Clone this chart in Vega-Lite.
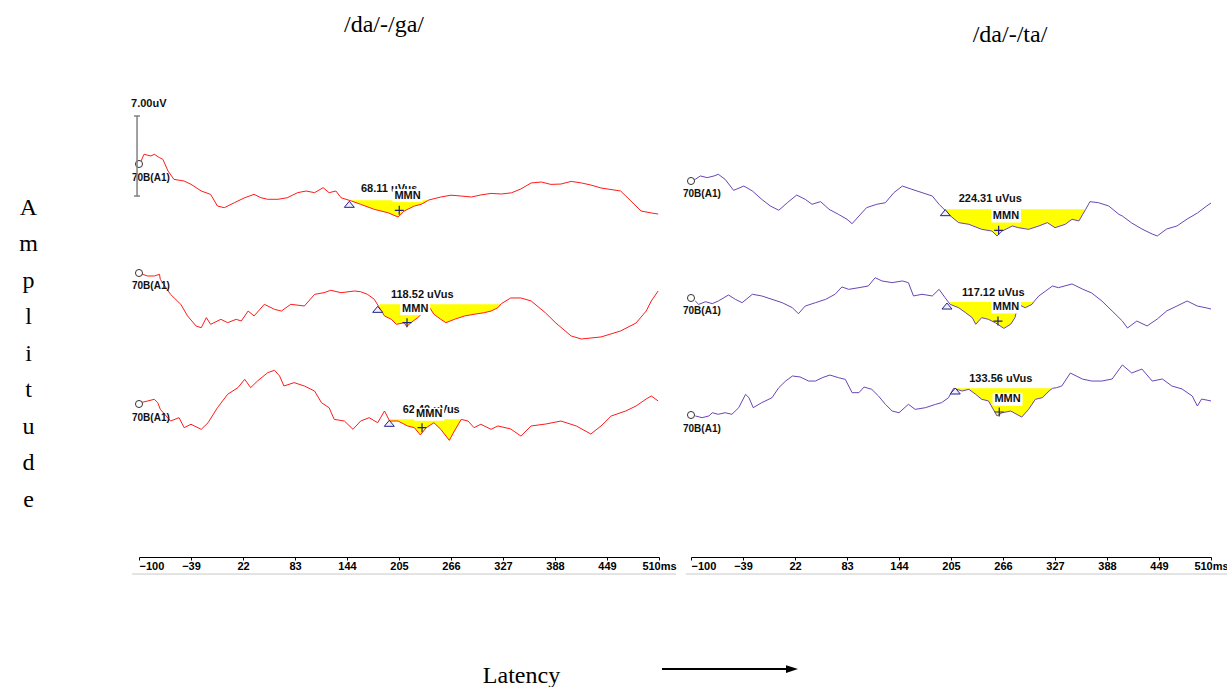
{
"$schema":"https://vega.github.io/schema/vega-lite/v6.json",
"padding":{"left":18,"top":13,"right":0,"bottom":0},
"background":"white",
"bounds":"flush",
"spacing":32,
"config":{"view":{"stroke":null},"axis":{"grid":false},"font":"Liberation Sans"},
"datasets":{
"wave":[
{"id":"L1","t":-98,"a":0.17},{"id":"L1","t":-95,"a":0.67},{"id":"L1","t":-94,"a":0.81},{"id":"L1","t":-86,"a":0.67},{"id":"L1","t":-82,"a":0.81},{"id":"L1","t":-76,"a":0.53},{"id":"L1","t":-72,"a":0.39},{"id":"L1","t":-66,"a":-0.58},{"id":"L1","t":-59,"a":-1.28},{"id":"L1","t":-47,"a":-1.42},{"id":"L1","t":-39,"a":-1.69},{"id":"L1","t":-27,"a":-2.25},{"id":"L1","t":-16,"a":-2.53},{"id":"L1","t":-8,"a":-3.5},{"id":"L1","t":0,"a":-3.64},{"id":"L1","t":12,"a":-3.22},{"id":"L1","t":24,"a":-2.81},{"id":"L1","t":35,"a":-2.53},{"id":"L1","t":43,"a":-2.81},{"id":"L1","t":51,"a":-2.94},{"id":"L1","t":63,"a":-2.94},{"id":"L1","t":74,"a":-2.81},{"id":"L1","t":86,"a":-2.39},{"id":"L1","t":96,"a":-2.25},{"id":"L1","t":106,"a":-2.39},{"id":"L1","t":116,"a":-1.97},{"id":"L1","t":123,"a":-2.39},{"id":"L1","t":131,"a":-2.25},{"id":"L1","t":137,"a":-2.81},{"id":"L1","t":149,"a":-3.08},{"id":"L1","t":160,"a":-3.36},{"id":"L1","t":176,"a":-3.78},{"id":"L1","t":192,"a":-4.06},{"id":"L1","t":204,"a":-4.42},{"id":"L1","t":211,"a":-3.92},{"id":"L1","t":223,"a":-3.5},{"id":"L1","t":231,"a":-3.36},{"id":"L1","t":240,"a":-3.0},{"id":"L1","t":254,"a":-2.75},{"id":"L1","t":266,"a":-2.6},{"id":"L1","t":278,"a":-2.67},{"id":"L1","t":290,"a":-2.75},{"id":"L1","t":301,"a":-2.58},{"id":"L1","t":313,"a":-2.45},{"id":"L1","t":325,"a":-2.5},{"id":"L1","t":337,"a":-2.4},{"id":"L1","t":348,"a":-2.08},{"id":"L1","t":360,"a":-1.58},{"id":"L1","t":372,"a":-1.5},{"id":"L1","t":383,"a":-1.7},{"id":"L1","t":395,"a":-1.67},{"id":"L1","t":407,"a":-1.45},{"id":"L1","t":419,"a":-1.58},{"id":"L1","t":430,"a":-1.75},{"id":"L1","t":442,"a":-2.0},{"id":"L1","t":465,"a":-2.25},{"id":"L1","t":477,"a":-3.08},{"id":"L1","t":489,"a":-3.92},{"id":"L1","t":501,"a":-4.08},{"id":"L1","t":509,"a":-4.17},
{"id":"L2","t":-98,"a":-0.06},{"id":"L2","t":-90,"a":-0.25},{"id":"L2","t":-82,"a":-0.25},{"id":"L2","t":-76,"a":-0.11},{"id":"L2","t":-75,"a":-0.53},{"id":"L2","t":-63,"a":-1.78},{"id":"L2","t":-51,"a":-2.61},{"id":"L2","t":-43,"a":-3.58},{"id":"L2","t":-33,"a":-4.42},{"id":"L2","t":-27,"a":-4.56},{"id":"L2","t":-21,"a":-3.72},{"id":"L2","t":-16,"a":-4.28},{"id":"L2","t":-4,"a":-3.86},{"id":"L2","t":4,"a":-4.14},{"id":"L2","t":14,"a":-3.86},{"id":"L2","t":20,"a":-4.0},{"id":"L2","t":28,"a":-3.17},{"id":"L2","t":35,"a":-3.58},{"id":"L2","t":47,"a":-2.61},{"id":"L2","t":59,"a":-3.03},{"id":"L2","t":67,"a":-3.17},{"id":"L2","t":78,"a":-2.61},{"id":"L2","t":94,"a":-2.75},{"id":"L2","t":106,"a":-1.78},{"id":"L2","t":117,"a":-1.64},{"id":"L2","t":125,"a":-1.44},{"id":"L2","t":137,"a":-1.64},{"id":"L2","t":153,"a":-1.5},{"id":"L2","t":160,"a":-1.56},{"id":"L2","t":168,"a":-1.78},{"id":"L2","t":176,"a":-2.19},{"id":"L2","t":182,"a":-2.89},{"id":"L2","t":188,"a":-3.58},{"id":"L2","t":196,"a":-3.86},{"id":"L2","t":202,"a":-4.28},{"id":"L2","t":211,"a":-4.14},{"id":"L2","t":214,"a":-4.47},{"id":"L2","t":219,"a":-4.14},{"id":"L2","t":227,"a":-3.72},{"id":"L2","t":235,"a":-3.17},{"id":"L2","t":241,"a":-2.89},{"id":"L2","t":246,"a":-3.44},{"id":"L2","t":254,"a":-3.86},{"id":"L2","t":260,"a":-4.14},{"id":"L2","t":270,"a":-3.86},{"id":"L2","t":282,"a":-3.58},{"id":"L2","t":293,"a":-3.44},{"id":"L2","t":305,"a":-3.31},{"id":"L2","t":313,"a":-3.17},{"id":"L2","t":321,"a":-2.89},{"id":"L2","t":325,"a":-2.56},{"id":"L2","t":336,"a":-2.08},{"id":"L2","t":348,"a":-2.08},{"id":"L2","t":360,"a":-2.33},{"id":"L2","t":377,"a":-3.33},{"id":"L2","t":389,"a":-4.17},{"id":"L2","t":407,"a":-5.25},{"id":"L2","t":419,"a":-5.5},{"id":"L2","t":442,"a":-5.33},{"id":"L2","t":465,"a":-4.83},{"id":"L2","t":483,"a":-4.17},{"id":"L2","t":495,"a":-3.17},{"id":"L2","t":501,"a":-2.33},{"id":"L2","t":509,"a":-1.5},
{"id":"L3","t":-98,"a":0.11},{"id":"L3","t":-90,"a":0.25},{"id":"L3","t":-82,"a":0.39},{"id":"L3","t":-78,"a":0.11},{"id":"L3","t":-75,"a":-0.44},{"id":"L3","t":-63,"a":-1.42},{"id":"L3","t":-53,"a":-1.14},{"id":"L3","t":-47,"a":-1.97},{"id":"L3","t":-39,"a":-1.69},{"id":"L3","t":-27,"a":-2.11},{"id":"L3","t":-19,"a":-1.56},{"id":"L3","t":-8,"a":-0.31},{"id":"L3","t":4,"a":0.81},{"id":"L3","t":16,"a":1.36},{"id":"L3","t":24,"a":2.06},{"id":"L3","t":31,"a":1.36},{"id":"L3","t":39,"a":1.92},{"id":"L3","t":51,"a":2.61},{"id":"L3","t":59,"a":2.81},{"id":"L3","t":65,"a":2.33},{"id":"L3","t":70,"a":1.5},{"id":"L3","t":82,"a":1.78},{"id":"L3","t":94,"a":1.5},{"id":"L3","t":106,"a":1.08},{"id":"L3","t":114,"a":0.11},{"id":"L3","t":123,"a":-0.31},{"id":"L3","t":129,"a":-1.28},{"id":"L3","t":141,"a":-1.42},{"id":"L3","t":151,"a":-2.11},{"id":"L3","t":160,"a":-1.42},{"id":"L3","t":170,"a":-1.14},{"id":"L3","t":180,"a":-1.56},{"id":"L3","t":188,"a":-0.58},{"id":"L3","t":194,"a":-1.42},{"id":"L3","t":204,"a":-1.42},{"id":"L3","t":215,"a":-1.83},{"id":"L3","t":223,"a":-1.97},{"id":"L3","t":230,"a":-2.58},{"id":"L3","t":237,"a":-1.97},{"id":"L3","t":246,"a":-1.56},{"id":"L3","t":254,"a":-2.11},{"id":"L3","t":264,"a":-3.03},{"id":"L3","t":270,"a":-2.25},{"id":"L3","t":278,"a":-1.28},{"id":"L3","t":286,"a":-1.42},{"id":"L3","t":293,"a":-1.97},{"id":"L3","t":301,"a":-1.69},{"id":"L3","t":313,"a":-2.11},{"id":"L3","t":321,"a":-1.83},{"id":"L3","t":336,"a":-2.08},{"id":"L3","t":348,"a":-2.67},{"id":"L3","t":360,"a":-1.83},{"id":"L3","t":377,"a":-1.67},{"id":"L3","t":395,"a":-1.42},{"id":"L3","t":413,"a":-1.83},{"id":"L3","t":430,"a":-2.5},{"id":"L3","t":442,"a":-1.83},{"id":"L3","t":454,"a":-1.0},{"id":"L3","t":471,"a":-0.58},{"id":"L3","t":483,"a":-0.17},{"id":"L3","t":495,"a":0.42},{"id":"L3","t":501,"a":0.67},{"id":"L3","t":509,"a":0.25},
{"id":"R1","t":-99,"a":0.08},{"id":"R1","t":-95,"a":0.14},{"id":"R1","t":-89,"a":0.42},{"id":"R1","t":-81,"a":0.28},{"id":"R1","t":-73,"a":0.42},{"id":"R1","t":-68,"a":0.56},{"id":"R1","t":-60,"a":0.14},{"id":"R1","t":-50,"a":-0.78},{"id":"R1","t":-38,"a":-0.42},{"id":"R1","t":-28,"a":-0.83},{"id":"R1","t":-17,"a":-1.53},{"id":"R1","t":-7,"a":-2.08},{"id":"R1","t":3,"a":-2.44},{"id":"R1","t":13,"a":-1.81},{"id":"R1","t":24,"a":-1.17},{"id":"R1","t":34,"a":-1.53},{"id":"R1","t":42,"a":-1.94},{"id":"R1","t":52,"a":-1.72},{"id":"R1","t":62,"a":-2.36},{"id":"R1","t":73,"a":-2.78},{"id":"R1","t":83,"a":-3.19},{"id":"R1","t":89,"a":-3.56},{"id":"R1","t":97,"a":-2.92},{"id":"R1","t":106,"a":-2.22},{"id":"R1","t":118,"a":-1.94},{"id":"R1","t":128,"a":-1.81},{"id":"R1","t":138,"a":-0.97},{"id":"R1","t":148,"a":-0.42},{"id":"R1","t":159,"a":-0.69},{"id":"R1","t":171,"a":-0.97},{"id":"R1","t":183,"a":-1.25},{"id":"R1","t":191,"a":-1.94},{"id":"R1","t":198,"a":-2.44},{"id":"R1","t":202,"a":-2.78},{"id":"R1","t":214,"a":-3.47},{"id":"R1","t":226,"a":-3.61},{"id":"R1","t":241,"a":-4.03},{"id":"R1","t":253,"a":-4.17},{"id":"R1","t":259,"a":-4.58},{"id":"R1","t":265,"a":-4.17},{"id":"R1","t":277,"a":-3.75},{"id":"R1","t":284,"a":-3.89},{"id":"R1","t":296,"a":-4.03},{"id":"R1","t":308,"a":-3.75},{"id":"R1","t":318,"a":-3.47},{"id":"R1","t":327,"a":-3.89},{"id":"R1","t":339,"a":-3.61},{"id":"R1","t":347,"a":-3.19},{"id":"R1","t":355,"a":-3.33},{"id":"R1","t":363,"a":-2.36},{"id":"R1","t":368,"a":-1.72},{"id":"R1","t":378,"a":-1.81},{"id":"R1","t":390,"a":-2.08},{"id":"R1","t":402,"a":-2.78},{"id":"R1","t":406,"a":-2.92},{"id":"R1","t":417,"a":-3.5},{"id":"R1","t":429,"a":-4.0},{"id":"R1","t":441,"a":-4.42},{"id":"R1","t":447,"a":-4.58},{"id":"R1","t":458,"a":-4.0},{"id":"R1","t":470,"a":-3.75},{"id":"R1","t":482,"a":-3.17},{"id":"R1","t":494,"a":-2.67},{"id":"R1","t":505,"a":-2.08},{"id":"R1","t":510,"a":-1.83},
{"id":"R2","t":-95,"a":-0.25},{"id":"R2","t":-91,"a":-0.53},{"id":"R2","t":-83,"a":-0.31},{"id":"R2","t":-75,"a":-0.47},{"id":"R2","t":-68,"a":-0.25},{"id":"R2","t":-56,"a":0.25},{"id":"R2","t":-48,"a":-0.11},{"id":"R2","t":-40,"a":-0.39},{"id":"R2","t":-28,"a":0.31},{"id":"R2","t":-17,"a":0.17},{"id":"R2","t":-5,"a":-0.11},{"id":"R2","t":7,"a":-0.39},{"id":"R2","t":19,"a":-0.81},{"id":"R2","t":26,"a":-1.31},{"id":"R2","t":34,"a":-0.67},{"id":"R2","t":46,"a":-0.39},{"id":"R2","t":58,"a":-0.11},{"id":"R2","t":69,"a":0.31},{"id":"R2","t":77,"a":0.92},{"id":"R2","t":85,"a":0.72},{"id":"R2","t":97,"a":0.86},{"id":"R2","t":108,"a":1.0},{"id":"R2","t":116,"a":1.69},{"id":"R2","t":124,"a":1.42},{"id":"R2","t":136,"a":1.28},{"id":"R2","t":148,"a":1.42},{"id":"R2","t":155,"a":1.28},{"id":"R2","t":161,"a":0.17},{"id":"R2","t":171,"a":0.31},{"id":"R2","t":183,"a":0.17},{"id":"R2","t":191,"a":0.72},{"id":"R2","t":198,"a":0.03},{"id":"R2","t":204,"a":-0.53},{"id":"R2","t":214,"a":-0.81},{"id":"R2","t":222,"a":-1.22},{"id":"R2","t":230,"a":-1.64},{"id":"R2","t":234,"a":-2.19},{"id":"R2","t":241,"a":-1.64},{"id":"R2","t":249,"a":-1.78},{"id":"R2","t":257,"a":-2.06},{"id":"R2","t":267,"a":-2.53},{"id":"R2","t":275,"a":-2.19},{"id":"R2","t":280,"a":-1.64},{"id":"R2","t":284,"a":-0.53},{"id":"R2","t":292,"a":-0.81},{"id":"R2","t":300,"a":-0.53},{"id":"R2","t":302,"a":-0.33},{"id":"R2","t":308,"a":0.17},{"id":"R2","t":316,"a":0.58},{"id":"R2","t":324,"a":1.0},{"id":"R2","t":331,"a":0.86},{"id":"R2","t":347,"a":1.17},{"id":"R2","t":359,"a":0.75},{"id":"R2","t":370,"a":0.42},{"id":"R2","t":382,"a":-0.25},{"id":"R2","t":394,"a":-1.08},{"id":"R2","t":406,"a":-1.92},{"id":"R2","t":412,"a":-2.5},{"id":"R2","t":423,"a":-1.92},{"id":"R2","t":435,"a":-2.33},{"id":"R2","t":447,"a":-1.75},{"id":"R2","t":458,"a":-1.08},{"id":"R2","t":470,"a":-0.67},{"id":"R2","t":482,"a":-0.25},{"id":"R2","t":494,"a":-0.67},{"id":"R2","t":505,"a":-0.83},{"id":"R2","t":510,"a":-0.92},
{"id":"R3","t":-95,"a":-0.08},{"id":"R3","t":-87,"a":-0.22},{"id":"R3","t":-79,"a":-0.08},{"id":"R3","t":-75,"a":0.19},{"id":"R3","t":-68,"a":0.06},{"id":"R3","t":-60,"a":0.19},{"id":"R3","t":-52,"a":0.06},{"id":"R3","t":-44,"a":0.61},{"id":"R3","t":-36,"a":1.72},{"id":"R3","t":-32,"a":1.44},{"id":"R3","t":-27,"a":0.61},{"id":"R3","t":-17,"a":1.03},{"id":"R3","t":-5,"a":1.44},{"id":"R3","t":3,"a":2.28},{"id":"R3","t":11,"a":2.83},{"id":"R3","t":19,"a":3.25},{"id":"R3","t":28,"a":3.17},{"id":"R3","t":38,"a":2.83},{"id":"R3","t":46,"a":2.83},{"id":"R3","t":54,"a":3.11},{"id":"R3","t":63,"a":3.33},{"id":"R3","t":73,"a":3.11},{"id":"R3","t":81,"a":2.97},{"id":"R3","t":89,"a":1.86},{"id":"R3","t":97,"a":1.86},{"id":"R3","t":103,"a":2.33},{"id":"R3","t":112,"a":2.14},{"id":"R3","t":120,"a":1.58},{"id":"R3","t":128,"a":0.89},{"id":"R3","t":136,"a":0.33},{"id":"R3","t":144,"a":0.19},{"id":"R3","t":155,"a":0.89},{"id":"R3","t":163,"a":0.47},{"id":"R3","t":175,"a":0.61},{"id":"R3","t":187,"a":0.89},{"id":"R3","t":194,"a":1.03},{"id":"R3","t":202,"a":1.44},{"id":"R3","t":208,"a":2.22},{"id":"R3","t":218,"a":2.0},{"id":"R3","t":226,"a":2.14},{"id":"R3","t":234,"a":1.72},{"id":"R3","t":241,"a":1.31},{"id":"R3","t":249,"a":1.17},{"id":"R3","t":259,"a":-0.08},{"id":"R3","t":265,"a":0.19},{"id":"R3","t":275,"a":0.33},{"id":"R3","t":288,"a":-0.17},{"id":"R3","t":296,"a":0.47},{"id":"R3","t":304,"a":1.31},{"id":"R3","t":312,"a":1.44},{"id":"R3","t":320,"a":2.0},{"id":"R3","t":324,"a":2.22},{"id":"R3","t":329,"a":2.28},{"id":"R3","t":335,"a":2.42},{"id":"R3","t":345,"a":3.5},{"id":"R3","t":359,"a":3.0},{"id":"R3","t":370,"a":2.83},{"id":"R3","t":382,"a":2.83},{"id":"R3","t":394,"a":3.0},{"id":"R3","t":406,"a":4.17},{"id":"R3","t":417,"a":3.5},{"id":"R3","t":429,"a":3.83},{"id":"R3","t":441,"a":2.83},{"id":"R3","t":453,"a":3.0},{"id":"R3","t":464,"a":2.42},{"id":"R3","t":476,"a":2.17},{"id":"R3","t":488,"a":1.58},{"id":"R3","t":494,"a":0.75},{"id":"R3","t":499,"a":1.33},{"id":"R3","t":510,"a":1.17}
],
"mmn":[
{"id":"L1","on":146,"off":241,"ref":-3.03,"tt":146.7,"ta":-3.36,"pt":205.3,"pa":-3.86,"lt":160.4,"la":-2.08,"lab":"68.11 uVus","mt":215,"ma":-2.63},
{"id":"L2","on":181,"off":325,"ref":-2.61,"tt":180,"ta":-3.03,"pt":214.4,"pa":-4.14,"lt":195.6,"la":-1.86,"lab":"118.52 uVus","mt":224,"ma":-2.97},
{"id":"L3","on":193,"off":278,"ref":-1.28,"tt":193.6,"ta":-1.61,"pt":232,"pa":-1.97,"lt":209.3,"la":-0.53,"lab":"62.40 uVus","mt":240.5,"ma":-0.86},
{"id":"R1","on":197,"off":363,"ref":-2.36,"tt":198.3,"ta":-2.64,"pt":260.9,"pa":-4.11,"lt":214,"la":-1.53,"lab":"224.31 uVus","mt":269.5,"ma":-2.92},
{"id":"R2","on":201,"off":302,"ref":-0.33,"tt":200.3,"ta":-0.67,"pt":260.1,"pa":-1.92,"lt":217.9,"la":0.44,"lab":"117.12 uVus","mt":269.5,"ma":-0.75},
{"id":"R3","on":208,"off":324,"ref":2.22,"tt":210,"ta":2.0,"pt":261.6,"pa":0.25,"lt":226.4,"la":2.97,"lab":"133.56 uVus","mt":271.3,"ma":1.31}
],
"bar":[{"t":-102.3,"top":4.0,"bot":-2.67,"lab":"7.00uV"}],
"under":[{"p":"L","t1":-108,"t2":530,"a":-34.17},{"p":"R","t1":-106,"t2":530,"a":-32.75}],
"arrow":[{"t1":-134,"t2":12.6,"th":18.5,"a":-40.67}]
},
"hconcat":[
{
"width":520,"height":461,
"title":{"text":"/da/-/ga/","font":"Liberation Serif","fontSize":24,"fontWeight":"normal","color":"black","frame":"group","anchor":"middle","baseline":"alphabetic","offset":40,"dx":-15},
"resolve":{"scale":{"y":"independent"}},
"layer":[
{"data":{"name":"wave"},"transform":[{"filter":"datum.id === 'L1'"},{"lookup":"id","from":{"data":{"name":"mmn"},"key":"id","fields":["on","off","ref"]}},{"filter":"datum.t >= datum.on && datum.t <= datum.off"}],
"mark":{"type":"area","color":"#ffff00","opacity":1},
"encoding":{
"x":{"field":"t","type":"quantitative","scale":{"domain":[-100,510],"nice":false,"zero":false},
"axis":{"values":[-100,-39,22,83,144,205,266,327,388,449,510],"labelExpr":"datum.value == 510 ? '510ms' : datum.label","labelFont":"Liberation Sans","labelFontSize":11,"labelFontWeight":"bold","labelColor":"black","labelPadding":0,"labelOverlap":false,"labelFlush":false,"labelAlign":{"condition":{"test":"datum.value == -100","value":"left"},"value":"center"},"tickSize":3,"tickColor":"black","domainColor":"black","grid":false,"title":"Latency","titleX":382,"titleY":125,"titleFont":"Liberation Serif","titleFontSize":24,"titleFontWeight":"normal","titleColor":"black","titleBaseline":"alphabetic","titleAlign":"center"}},
"y":{"field":"a","type":"quantitative","scale":{"domain":[-32.75,5.667],"nice":false,"zero":false},
"axis":{"title":["A","m","p","l","i","t","u","d","e"],"labels":false,"ticks":false,"domain":false,"grid":false,"titleAngle":0,"titleX":-111,"titleY":118,"titleAlign":"center","titleBaseline":"alphabetic","titleLineHeight":36.5,"titleFont":"Liberation Serif","titleFontSize":24,"titleFontWeight":"normal","titleColor":"black"}},
"y2":{"field":"ref"}}},
{"data":{"name":"wave"},"transform":[{"filter":"datum.id === 'L1'"}],"mark":{"type":"line","color":"#ff1a1a","strokeWidth":1},"encoding":{"x":{"field":"t","type":"quantitative"},"y":{"field":"a","type":"quantitative","scale":{"domain":[-32.75,5.667],"nice":false,"zero":false},"axis":null}}},
{"data":{"name":"mmn"},"transform":[{"filter":"datum.id === 'L1'"}],"mark":{"type":"text","align":"left","baseline":"middle","fontSize":11,"fontWeight":"bold","color":"#111"},"encoding":{"x":{"field":"lt","type":"quantitative"},"y":{"field":"la","type":"quantitative","scale":{"domain":[-32.75,5.667],"nice":false,"zero":false},"axis":null},"text":{"field":"lab"}}},
{"data":{"name":"mmn"},"transform":[{"filter":"datum.id === 'L1'"}],"mark":{"type":"point","shape":"M-1.5,-0.65H1.5V0.65H-1.5Z","filled":true,"color":"white","opacity":1,"size":400,"strokeWidth":0},"encoding":{"x":{"field":"mt","type":"quantitative"},"y":{"field":"ma","type":"quantitative","scale":{"domain":[-32.75,5.667],"nice":false,"zero":false},"axis":null}}},
{"data":{"name":"mmn"},"transform":[{"filter":"datum.id === 'L1'"}],"mark":{"type":"text","text":"MMN","align":"center","baseline":"middle","fontSize":11,"fontWeight":"bold","color":"#111"},"encoding":{"x":{"field":"mt","type":"quantitative"},"y":{"field":"ma","type":"quantitative","scale":{"domain":[-32.75,5.667],"nice":false,"zero":false},"axis":null}}},
{"data":{"name":"mmn"},"transform":[{"filter":"datum.id === 'L1'"}],"mark":{"type":"point","shape":"M-1,0.6L1,0.6L0,-0.6Z","fill":"#eef","stroke":"#20208a","strokeWidth":1,"size":100,"opacity":1},"encoding":{"x":{"field":"tt","type":"quantitative"},"y":{"field":"ta","type":"quantitative","scale":{"domain":[-32.75,5.667],"nice":false,"zero":false},"axis":null}}},
{"data":{"name":"mmn"},"transform":[{"filter":"datum.id === 'L1'"}],"mark":{"type":"point","shape":"M-1,0H1M0,-1V1","filled":false,"stroke":"#20208a","strokeWidth":1.2,"size":81,"opacity":1},"encoding":{"x":{"field":"pt","type":"quantitative"},"y":{"field":"pa","type":"quantitative","scale":{"domain":[-32.75,5.667],"nice":false,"zero":false},"axis":null}}},
{"data":{"name":"mmn"},"transform":[{"filter":"datum.id === 'L1'"}],"mark":{"type":"point","shape":"circle","size":50,"fill":"white","stroke":"#333","strokeWidth":1,"opacity":1},"encoding":{"x":{"datum":-100,"type":"quantitative"},"y":{"datum":0,"type":"quantitative","scale":{"domain":[-32.75,5.667],"nice":false,"zero":false},"axis":null}}},
{"data":{"name":"mmn"},"transform":[{"filter":"datum.id === 'L1'"}],"mark":{"type":"text","text":"70B(A1)","align":"left","baseline":"middle","dx":-7,"dy":13.5,"fontSize":10,"fontWeight":"bold","color":"#111"},"encoding":{"x":{"datum":-100,"type":"quantitative"},"y":{"datum":0,"type":"quantitative","scale":{"domain":[-32.75,5.667],"nice":false,"zero":false},"axis":null}}},
{"data":{"name":"bar"},"mark":{"type":"rule","color":"#808080","strokeWidth":1.5},"encoding":{"x":{"field":"t","type":"quantitative"},"y":{"field":"top","type":"quantitative","scale":{"domain":[-32.75,5.667],"nice":false,"zero":false},"axis":null},"y2":{"field":"bot"}}},
{"data":{"name":"bar"},"mark":{"type":"point","shape":"M-1,0H1","filled":false,"stroke":"#808080","strokeWidth":1.5,"size":36,"opacity":1},"encoding":{"x":{"field":"t","type":"quantitative"},"y":{"field":"top","type":"quantitative","scale":{"domain":[-32.75,5.667],"nice":false,"zero":false},"axis":null}}},
{"data":{"name":"bar"},"mark":{"type":"point","shape":"M-1,0H1","filled":false,"stroke":"#808080","strokeWidth":1.5,"size":36,"opacity":1},"encoding":{"x":{"field":"t","type":"quantitative"},"y":{"field":"bot","type":"quantitative","scale":{"domain":[-32.75,5.667],"nice":false,"zero":false},"axis":null}}},
{"data":{"name":"bar"},"mark":{"type":"text","align":"left","baseline":"middle","dx":-6,"dy":-12,"fontSize":11,"fontWeight":"bold","color":"#111"},"encoding":{"x":{"field":"t","type":"quantitative"},"y":{"field":"top","type":"quantitative","scale":{"domain":[-32.75,5.667],"nice":false,"zero":false},"axis":null},"text":{"field":"lab"}}},
{"data":{"name":"under"},"transform":[{"filter":"datum.p === 'L'"}],"mark":{"type":"rule","color":"#c8c8c8","strokeWidth":1},"encoding":{"x":{"field":"t1","type":"quantitative"},"x2":{"field":"t2"},"y":{"field":"a","type":"quantitative","scale":{"domain":[-32.75,5.667],"nice":false,"zero":false},"axis":null}}},
{"data":{"name":"wave"},"transform":[{"filter":"datum.id === 'L2'"},{"lookup":"id","from":{"data":{"name":"mmn"},"key":"id","fields":["on","off","ref"]}},{"filter":"datum.t >= datum.on && datum.t <= datum.off"}],"mark":{"type":"area","color":"#ffff00","opacity":1},"encoding":{"x":{"field":"t","type":"quantitative"},"y":{"field":"a","type":"quantitative","scale":{"domain":[-23.667,14.75],"nice":false,"zero":false},"axis":null},"y2":{"field":"ref"}}},
{"data":{"name":"wave"},"transform":[{"filter":"datum.id === 'L2'"}],"mark":{"type":"line","color":"#ff1a1a","strokeWidth":1},"encoding":{"x":{"field":"t","type":"quantitative"},"y":{"field":"a","type":"quantitative","scale":{"domain":[-23.667,14.75],"nice":false,"zero":false},"axis":null}}},
{"data":{"name":"mmn"},"transform":[{"filter":"datum.id === 'L2'"}],"mark":{"type":"text","align":"left","baseline":"middle","fontSize":11,"fontWeight":"bold","color":"#111"},"encoding":{"x":{"field":"lt","type":"quantitative"},"y":{"field":"la","type":"quantitative","scale":{"domain":[-23.667,14.75],"nice":false,"zero":false},"axis":null},"text":{"field":"lab"}}},
{"data":{"name":"mmn"},"transform":[{"filter":"datum.id === 'L2'"}],"mark":{"type":"point","shape":"M-1.5,-0.65H1.5V0.65H-1.5Z","filled":true,"color":"white","opacity":1,"size":400,"strokeWidth":0},"encoding":{"x":{"field":"mt","type":"quantitative"},"y":{"field":"ma","type":"quantitative","scale":{"domain":[-23.667,14.75],"nice":false,"zero":false},"axis":null}}},
{"data":{"name":"mmn"},"transform":[{"filter":"datum.id === 'L2'"}],"mark":{"type":"text","text":"MMN","align":"center","baseline":"middle","fontSize":11,"fontWeight":"bold","color":"#111"},"encoding":{"x":{"field":"mt","type":"quantitative"},"y":{"field":"ma","type":"quantitative","scale":{"domain":[-23.667,14.75],"nice":false,"zero":false},"axis":null}}},
{"data":{"name":"mmn"},"transform":[{"filter":"datum.id === 'L2'"}],"mark":{"type":"point","shape":"M-1,0.6L1,0.6L0,-0.6Z","fill":"#eef","stroke":"#20208a","strokeWidth":1,"size":100,"opacity":1},"encoding":{"x":{"field":"tt","type":"quantitative"},"y":{"field":"ta","type":"quantitative","scale":{"domain":[-23.667,14.75],"nice":false,"zero":false},"axis":null}}},
{"data":{"name":"mmn"},"transform":[{"filter":"datum.id === 'L2'"}],"mark":{"type":"point","shape":"M-1,0H1M0,-1V1","filled":false,"stroke":"#20208a","strokeWidth":1.2,"size":81,"opacity":1},"encoding":{"x":{"field":"pt","type":"quantitative"},"y":{"field":"pa","type":"quantitative","scale":{"domain":[-23.667,14.75],"nice":false,"zero":false},"axis":null}}},
{"data":{"name":"mmn"},"transform":[{"filter":"datum.id === 'L2'"}],"mark":{"type":"point","shape":"circle","size":50,"fill":"white","stroke":"#333","strokeWidth":1,"opacity":1},"encoding":{"x":{"datum":-100,"type":"quantitative"},"y":{"datum":0,"type":"quantitative","scale":{"domain":[-23.667,14.75],"nice":false,"zero":false},"axis":null}}},
{"data":{"name":"mmn"},"transform":[{"filter":"datum.id === 'L2'"}],"mark":{"type":"text","text":"70B(A1)","align":"left","baseline":"middle","dx":-7,"dy":13.5,"fontSize":10,"fontWeight":"bold","color":"#111"},"encoding":{"x":{"datum":-100,"type":"quantitative"},"y":{"datum":0,"type":"quantitative","scale":{"domain":[-23.667,14.75],"nice":false,"zero":false},"axis":null}}},
{"data":{"name":"wave"},"transform":[{"filter":"datum.id === 'L3'"},{"lookup":"id","from":{"data":{"name":"mmn"},"key":"id","fields":["on","off","ref"]}},{"filter":"datum.t >= datum.on && datum.t <= datum.off"}],"mark":{"type":"area","color":"#ffff00","opacity":1},"encoding":{"x":{"field":"t","type":"quantitative"},"y":{"field":"a","type":"quantitative","scale":{"domain":[-12.75,25.667],"nice":false,"zero":false},"axis":null},"y2":{"field":"ref"}}},
{"data":{"name":"wave"},"transform":[{"filter":"datum.id === 'L3'"}],"mark":{"type":"line","color":"#ff1a1a","strokeWidth":1},"encoding":{"x":{"field":"t","type":"quantitative"},"y":{"field":"a","type":"quantitative","scale":{"domain":[-12.75,25.667],"nice":false,"zero":false},"axis":null}}},
{"data":{"name":"mmn"},"transform":[{"filter":"datum.id === 'L3'"}],"mark":{"type":"text","align":"left","baseline":"middle","fontSize":11,"fontWeight":"bold","color":"#111"},"encoding":{"x":{"field":"lt","type":"quantitative"},"y":{"field":"la","type":"quantitative","scale":{"domain":[-12.75,25.667],"nice":false,"zero":false},"axis":null},"text":{"field":"lab"}}},
{"data":{"name":"mmn"},"transform":[{"filter":"datum.id === 'L3'"}],"mark":{"type":"point","shape":"M-1.5,-0.65H1.5V0.65H-1.5Z","filled":true,"color":"white","opacity":1,"size":400,"strokeWidth":0},"encoding":{"x":{"field":"mt","type":"quantitative"},"y":{"field":"ma","type":"quantitative","scale":{"domain":[-12.75,25.667],"nice":false,"zero":false},"axis":null}}},
{"data":{"name":"mmn"},"transform":[{"filter":"datum.id === 'L3'"}],"mark":{"type":"text","text":"MMN","align":"center","baseline":"middle","fontSize":11,"fontWeight":"bold","color":"#111"},"encoding":{"x":{"field":"mt","type":"quantitative"},"y":{"field":"ma","type":"quantitative","scale":{"domain":[-12.75,25.667],"nice":false,"zero":false},"axis":null}}},
{"data":{"name":"mmn"},"transform":[{"filter":"datum.id === 'L3'"}],"mark":{"type":"point","shape":"M-1,0.6L1,0.6L0,-0.6Z","fill":"#eef","stroke":"#20208a","strokeWidth":1,"size":100,"opacity":1},"encoding":{"x":{"field":"tt","type":"quantitative"},"y":{"field":"ta","type":"quantitative","scale":{"domain":[-12.75,25.667],"nice":false,"zero":false},"axis":null}}},
{"data":{"name":"mmn"},"transform":[{"filter":"datum.id === 'L3'"}],"mark":{"type":"point","shape":"M-1,0H1M0,-1V1","filled":false,"stroke":"#20208a","strokeWidth":1.2,"size":81,"opacity":1},"encoding":{"x":{"field":"pt","type":"quantitative"},"y":{"field":"pa","type":"quantitative","scale":{"domain":[-12.75,25.667],"nice":false,"zero":false},"axis":null}}},
{"data":{"name":"mmn"},"transform":[{"filter":"datum.id === 'L3'"}],"mark":{"type":"point","shape":"circle","size":50,"fill":"white","stroke":"#333","strokeWidth":1,"opacity":1},"encoding":{"x":{"datum":-100,"type":"quantitative"},"y":{"datum":0,"type":"quantitative","scale":{"domain":[-12.75,25.667],"nice":false,"zero":false},"axis":null}}},
{"data":{"name":"mmn"},"transform":[{"filter":"datum.id === 'L3'"}],"mark":{"type":"text","text":"70B(A1)","align":"left","baseline":"middle","dx":-7,"dy":13.5,"fontSize":10,"fontWeight":"bold","color":"#111"},"encoding":{"x":{"datum":-100,"type":"quantitative"},"y":{"datum":0,"type":"quantitative","scale":{"domain":[-12.75,25.667],"nice":false,"zero":false},"axis":null}}}
]
},
{
"width":520,"height":461,
"title":{"text":"/da/-/ta/","font":"Liberation Serif","fontSize":24,"fontWeight":"normal","color":"black","frame":"group","anchor":"middle","baseline":"alphabetic","offset":30,"dx":59},
"resolve":{"scale":{"y":"independent"}},
"layer":[
{"data":{"name":"wave"},"transform":[{"filter":"datum.id === 'R1'"},{"lookup":"id","from":{"data":{"name":"mmn"},"key":"id","fields":["on","off","ref"]}},{"filter":"datum.t >= datum.on && datum.t <= datum.off"}],
"mark":{"type":"area","color":"#ffff00","opacity":1},
"encoding":{
"x":{"field":"t","type":"quantitative","scale":{"domain":[-100,510],"nice":false,"zero":false},
"axis":{"values":[-100,-39,22,83,144,205,266,327,388,449,510],"labelExpr":"datum.value == 510 ? '510ms' : datum.label","labelFont":"Liberation Sans","labelFontSize":11,"labelFontWeight":"bold","labelColor":"black","labelPadding":0,"labelOverlap":false,"labelFlush":false,"labelAlign":{"condition":{"test":"datum.value == -100","value":"left"},"value":"center"},"tickSize":3,"tickColor":"black","domainColor":"black","grid":false,"title":null}},
"y":{"field":"a","type":"quantitative","scale":{"domain":[-31.333,7.083],"nice":false,"zero":false},"axis":null},
"y2":{"field":"ref"}}},
{"data":{"name":"wave"},"transform":[{"filter":"datum.id === 'R1'"}],"mark":{"type":"line","color":"#6a45b5","strokeWidth":1},"encoding":{"x":{"field":"t","type":"quantitative"},"y":{"field":"a","type":"quantitative","scale":{"domain":[-31.333,7.083],"nice":false,"zero":false},"axis":null}}},
{"data":{"name":"mmn"},"transform":[{"filter":"datum.id === 'R1'"}],"mark":{"type":"text","align":"left","baseline":"middle","fontSize":11,"fontWeight":"bold","color":"#111"},"encoding":{"x":{"field":"lt","type":"quantitative"},"y":{"field":"la","type":"quantitative","scale":{"domain":[-31.333,7.083],"nice":false,"zero":false},"axis":null},"text":{"field":"lab"}}},
{"data":{"name":"mmn"},"transform":[{"filter":"datum.id === 'R1'"}],"mark":{"type":"point","shape":"M-1.5,-0.65H1.5V0.65H-1.5Z","filled":true,"color":"white","opacity":1,"size":400,"strokeWidth":0},"encoding":{"x":{"field":"mt","type":"quantitative"},"y":{"field":"ma","type":"quantitative","scale":{"domain":[-31.333,7.083],"nice":false,"zero":false},"axis":null}}},
{"data":{"name":"mmn"},"transform":[{"filter":"datum.id === 'R1'"}],"mark":{"type":"text","text":"MMN","align":"center","baseline":"middle","fontSize":11,"fontWeight":"bold","color":"#111"},"encoding":{"x":{"field":"mt","type":"quantitative"},"y":{"field":"ma","type":"quantitative","scale":{"domain":[-31.333,7.083],"nice":false,"zero":false},"axis":null}}},
{"data":{"name":"mmn"},"transform":[{"filter":"datum.id === 'R1'"}],"mark":{"type":"point","shape":"M-1,0.6L1,0.6L0,-0.6Z","fill":"#eef","stroke":"#20208a","strokeWidth":1,"size":100,"opacity":1},"encoding":{"x":{"field":"tt","type":"quantitative"},"y":{"field":"ta","type":"quantitative","scale":{"domain":[-31.333,7.083],"nice":false,"zero":false},"axis":null}}},
{"data":{"name":"mmn"},"transform":[{"filter":"datum.id === 'R1'"}],"mark":{"type":"point","shape":"M-1,0H1M0,-1V1","filled":false,"stroke":"#20208a","strokeWidth":1.2,"size":81,"opacity":1},"encoding":{"x":{"field":"pt","type":"quantitative"},"y":{"field":"pa","type":"quantitative","scale":{"domain":[-31.333,7.083],"nice":false,"zero":false},"axis":null}}},
{"data":{"name":"mmn"},"transform":[{"filter":"datum.id === 'R1'"}],"mark":{"type":"point","shape":"circle","size":50,"fill":"white","stroke":"#333","strokeWidth":1,"opacity":1},"encoding":{"x":{"datum":-100,"type":"quantitative"},"y":{"datum":0,"type":"quantitative","scale":{"domain":[-31.333,7.083],"nice":false,"zero":false},"axis":null}}},
{"data":{"name":"mmn"},"transform":[{"filter":"datum.id === 'R1'"}],"mark":{"type":"text","text":"70B(A1)","align":"left","baseline":"middle","dx":-8,"dy":13.5,"fontSize":10,"fontWeight":"bold","color":"#111"},"encoding":{"x":{"datum":-100,"type":"quantitative"},"y":{"datum":0,"type":"quantitative","scale":{"domain":[-31.333,7.083],"nice":false,"zero":false},"axis":null}}},
{"data":{"name":"arrow"},"mark":{"type":"rule","color":"black","strokeWidth":2},"encoding":{"x":{"field":"t1","type":"quantitative"},"x2":{"field":"t2"},"y":{"field":"a","type":"quantitative","scale":{"domain":[-31.333,7.083],"nice":false,"zero":false},"axis":null}}},
{"data":{"name":"arrow"},"mark":{"type":"point","shape":"M-1,-0.65L1,0L-1,0.65Z","filled":true,"color":"black","size":144,"opacity":1},"encoding":{"x":{"field":"th","type":"quantitative"},"y":{"field":"a","type":"quantitative","scale":{"domain":[-31.333,7.083],"nice":false,"zero":false},"axis":null}}},
{"data":{"name":"under"},"transform":[{"filter":"datum.p === 'R'"}],"mark":{"type":"rule","color":"#c8c8c8","strokeWidth":1},"encoding":{"x":{"field":"t1","type":"quantitative"},"x2":{"field":"t2"},"y":{"field":"a","type":"quantitative","scale":{"domain":[-31.333,7.083],"nice":false,"zero":false},"axis":null}}},
{"data":{"name":"wave"},"transform":[{"filter":"datum.id === 'R2'"},{"lookup":"id","from":{"data":{"name":"mmn"},"key":"id","fields":["on","off","ref"]}},{"filter":"datum.t >= datum.on && datum.t <= datum.off"}],"mark":{"type":"area","color":"#ffff00","opacity":1},"encoding":{"x":{"field":"t","type":"quantitative"},"y":{"field":"a","type":"quantitative","scale":{"domain":[-21.583,16.833],"nice":false,"zero":false},"axis":null},"y2":{"field":"ref"}}},
{"data":{"name":"wave"},"transform":[{"filter":"datum.id === 'R2'"}],"mark":{"type":"line","color":"#6a45b5","strokeWidth":1},"encoding":{"x":{"field":"t","type":"quantitative"},"y":{"field":"a","type":"quantitative","scale":{"domain":[-21.583,16.833],"nice":false,"zero":false},"axis":null}}},
{"data":{"name":"mmn"},"transform":[{"filter":"datum.id === 'R2'"}],"mark":{"type":"text","align":"left","baseline":"middle","fontSize":11,"fontWeight":"bold","color":"#111"},"encoding":{"x":{"field":"lt","type":"quantitative"},"y":{"field":"la","type":"quantitative","scale":{"domain":[-21.583,16.833],"nice":false,"zero":false},"axis":null},"text":{"field":"lab"}}},
{"data":{"name":"mmn"},"transform":[{"filter":"datum.id === 'R2'"}],"mark":{"type":"point","shape":"M-1.5,-0.65H1.5V0.65H-1.5Z","filled":true,"color":"white","opacity":1,"size":400,"strokeWidth":0},"encoding":{"x":{"field":"mt","type":"quantitative"},"y":{"field":"ma","type":"quantitative","scale":{"domain":[-21.583,16.833],"nice":false,"zero":false},"axis":null}}},
{"data":{"name":"mmn"},"transform":[{"filter":"datum.id === 'R2'"}],"mark":{"type":"text","text":"MMN","align":"center","baseline":"middle","fontSize":11,"fontWeight":"bold","color":"#111"},"encoding":{"x":{"field":"mt","type":"quantitative"},"y":{"field":"ma","type":"quantitative","scale":{"domain":[-21.583,16.833],"nice":false,"zero":false},"axis":null}}},
{"data":{"name":"mmn"},"transform":[{"filter":"datum.id === 'R2'"}],"mark":{"type":"point","shape":"M-1,0.6L1,0.6L0,-0.6Z","fill":"#eef","stroke":"#20208a","strokeWidth":1,"size":100,"opacity":1},"encoding":{"x":{"field":"tt","type":"quantitative"},"y":{"field":"ta","type":"quantitative","scale":{"domain":[-21.583,16.833],"nice":false,"zero":false},"axis":null}}},
{"data":{"name":"mmn"},"transform":[{"filter":"datum.id === 'R2'"}],"mark":{"type":"point","shape":"M-1,0H1M0,-1V1","filled":false,"stroke":"#20208a","strokeWidth":1.2,"size":81,"opacity":1},"encoding":{"x":{"field":"pt","type":"quantitative"},"y":{"field":"pa","type":"quantitative","scale":{"domain":[-21.583,16.833],"nice":false,"zero":false},"axis":null}}},
{"data":{"name":"mmn"},"transform":[{"filter":"datum.id === 'R2'"}],"mark":{"type":"point","shape":"circle","size":50,"fill":"white","stroke":"#333","strokeWidth":1,"opacity":1},"encoding":{"x":{"datum":-100,"type":"quantitative"},"y":{"datum":0,"type":"quantitative","scale":{"domain":[-21.583,16.833],"nice":false,"zero":false},"axis":null}}},
{"data":{"name":"mmn"},"transform":[{"filter":"datum.id === 'R2'"}],"mark":{"type":"text","text":"70B(A1)","align":"left","baseline":"middle","dx":-8,"dy":13.5,"fontSize":10,"fontWeight":"bold","color":"#111"},"encoding":{"x":{"datum":-100,"type":"quantitative"},"y":{"datum":0,"type":"quantitative","scale":{"domain":[-21.583,16.833],"nice":false,"zero":false},"axis":null}}},
{"data":{"name":"wave"},"transform":[{"filter":"datum.id === 'R3'"},{"lookup":"id","from":{"data":{"name":"mmn"},"key":"id","fields":["on","off","ref"]}},{"filter":"datum.t >= datum.on && datum.t <= datum.off"}],"mark":{"type":"area","color":"#ffff00","opacity":1},"encoding":{"x":{"field":"t","type":"quantitative"},"y":{"field":"a","type":"quantitative","scale":{"domain":[-11.833,26.583],"nice":false,"zero":false},"axis":null},"y2":{"field":"ref"}}},
{"data":{"name":"wave"},"transform":[{"filter":"datum.id === 'R3'"}],"mark":{"type":"line","color":"#6a45b5","strokeWidth":1},"encoding":{"x":{"field":"t","type":"quantitative"},"y":{"field":"a","type":"quantitative","scale":{"domain":[-11.833,26.583],"nice":false,"zero":false},"axis":null}}},
{"data":{"name":"mmn"},"transform":[{"filter":"datum.id === 'R3'"}],"mark":{"type":"text","align":"left","baseline":"middle","fontSize":11,"fontWeight":"bold","color":"#111"},"encoding":{"x":{"field":"lt","type":"quantitative"},"y":{"field":"la","type":"quantitative","scale":{"domain":[-11.833,26.583],"nice":false,"zero":false},"axis":null},"text":{"field":"lab"}}},
{"data":{"name":"mmn"},"transform":[{"filter":"datum.id === 'R3'"}],"mark":{"type":"point","shape":"M-1.5,-0.65H1.5V0.65H-1.5Z","filled":true,"color":"white","opacity":1,"size":400,"strokeWidth":0},"encoding":{"x":{"field":"mt","type":"quantitative"},"y":{"field":"ma","type":"quantitative","scale":{"domain":[-11.833,26.583],"nice":false,"zero":false},"axis":null}}},
{"data":{"name":"mmn"},"transform":[{"filter":"datum.id === 'R3'"}],"mark":{"type":"text","text":"MMN","align":"center","baseline":"middle","fontSize":11,"fontWeight":"bold","color":"#111"},"encoding":{"x":{"field":"mt","type":"quantitative"},"y":{"field":"ma","type":"quantitative","scale":{"domain":[-11.833,26.583],"nice":false,"zero":false},"axis":null}}},
{"data":{"name":"mmn"},"transform":[{"filter":"datum.id === 'R3'"}],"mark":{"type":"point","shape":"M-1,0.6L1,0.6L0,-0.6Z","fill":"#eef","stroke":"#20208a","strokeWidth":1,"size":100,"opacity":1},"encoding":{"x":{"field":"tt","type":"quantitative"},"y":{"field":"ta","type":"quantitative","scale":{"domain":[-11.833,26.583],"nice":false,"zero":false},"axis":null}}},
{"data":{"name":"mmn"},"transform":[{"filter":"datum.id === 'R3'"}],"mark":{"type":"point","shape":"M-1,0H1M0,-1V1","filled":false,"stroke":"#20208a","strokeWidth":1.2,"size":81,"opacity":1},"encoding":{"x":{"field":"pt","type":"quantitative"},"y":{"field":"pa","type":"quantitative","scale":{"domain":[-11.833,26.583],"nice":false,"zero":false},"axis":null}}},
{"data":{"name":"mmn"},"transform":[{"filter":"datum.id === 'R3'"}],"mark":{"type":"point","shape":"circle","size":50,"fill":"white","stroke":"#333","strokeWidth":1,"opacity":1},"encoding":{"x":{"datum":-100,"type":"quantitative"},"y":{"datum":0,"type":"quantitative","scale":{"domain":[-11.833,26.583],"nice":false,"zero":false},"axis":null}}},
{"data":{"name":"mmn"},"transform":[{"filter":"datum.id === 'R3'"}],"mark":{"type":"text","text":"70B(A1)","align":"left","baseline":"middle","dx":-8,"dy":13.5,"fontSize":10,"fontWeight":"bold","color":"#111"},"encoding":{"x":{"datum":-100,"type":"quantitative"},"y":{"datum":0,"type":"quantitative","scale":{"domain":[-11.833,26.583],"nice":false,"zero":false},"axis":null}}}
]
}
]
}
